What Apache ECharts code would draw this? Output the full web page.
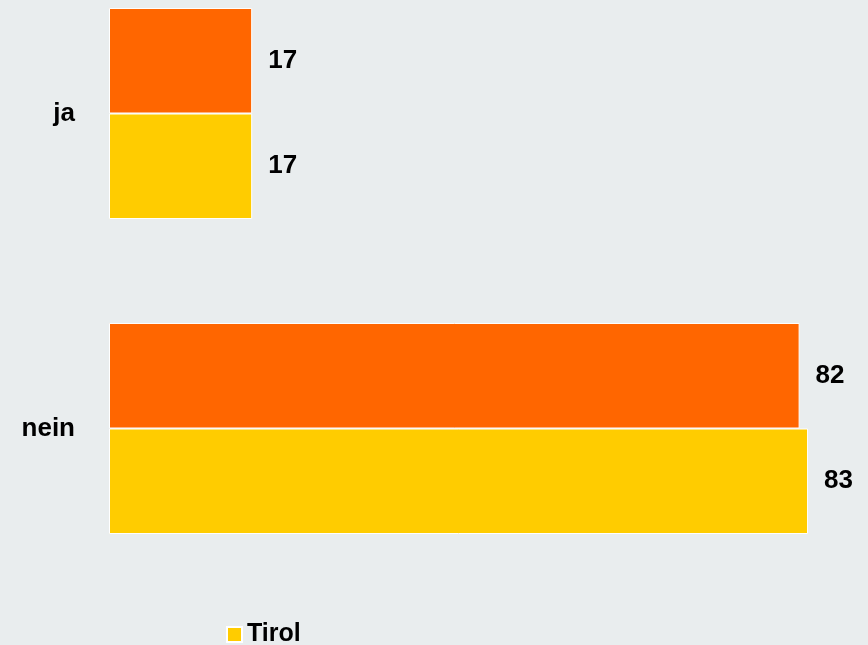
<!DOCTYPE html>
<html lang="de">
<head>
<meta charset="utf-8">
<title>ja / nein</title>
<script src="https://cdn.jsdelivr.net/npm/echarts@6/dist/echarts.min.js"></script>
<style>
  html, body { margin: 0; padding: 0; background: #E9EDEE; }
  #main { width: 868px; height: 645px; }
</style>
</head>
<body>
<div id="main"></div>
<script type="text/javascript">
    var categories = ['ja', 'nein'];
    var oesterreich = [17, 82];
    var tirol = [17, 83];

    var myChart = echarts.init(document.getElementById('main'));

    var labelStyle = {
        show: true,
        position: 'right',
        distance: 16,
        color: '#000',
        fontFamily: 'Liberation Sans, Arial, sans-serif',
        fontWeight: 'bold',
        fontSize: 26
    };

    option = {
        backgroundColor: '#E9EDEE',
        animation: false,
        grid: {
            left: 109,
            top: -44,
            width: 758,
            height: 630,
            outerBoundsMode: 'none'
        },
        legend: {
            data: ['Tirol'],
            left: 221,
            top: 617,
            itemWidth: 15,
            itemHeight: 15,
            itemGap: 3,
            icon: 'rect',
            textStyle: {
                color: '#000',
                fontFamily: 'Liberation Sans, Arial, sans-serif',
                fontWeight: 'bold',
                fontSize: 25
            }
        },
        xAxis: {
            type: 'value',
            min: 0,
            max: 90,
            show: false
        },
        yAxis: {
            type: 'category',
            inverse: true,
            data: categories,
            axisLine: { show: false },
            axisTick: { show: false },
            axisLabel: {
                margin: 34,
                color: '#000',
                fontFamily: 'Liberation Sans, Arial, sans-serif',
                fontWeight: 'bold',
                fontSize: 26
            }
        },
        series: [{
            name: 'Österreich',
            type: 'bar',
            data: oesterreich,
            barGap: '0%',
            barCategoryGap: '33%',
            itemStyle: { color: '#FF6600', borderColor: '#fff', borderWidth: 1 },
            label: labelStyle
        }, {
            name: 'Tirol',
            type: 'bar',
            data: tirol,
            itemStyle: { color: '#FFCC00', borderColor: '#fff', borderWidth: 1 },
            label: labelStyle
        }]
    };

    myChart.setOption(option);
</script>
</body>
</html>
